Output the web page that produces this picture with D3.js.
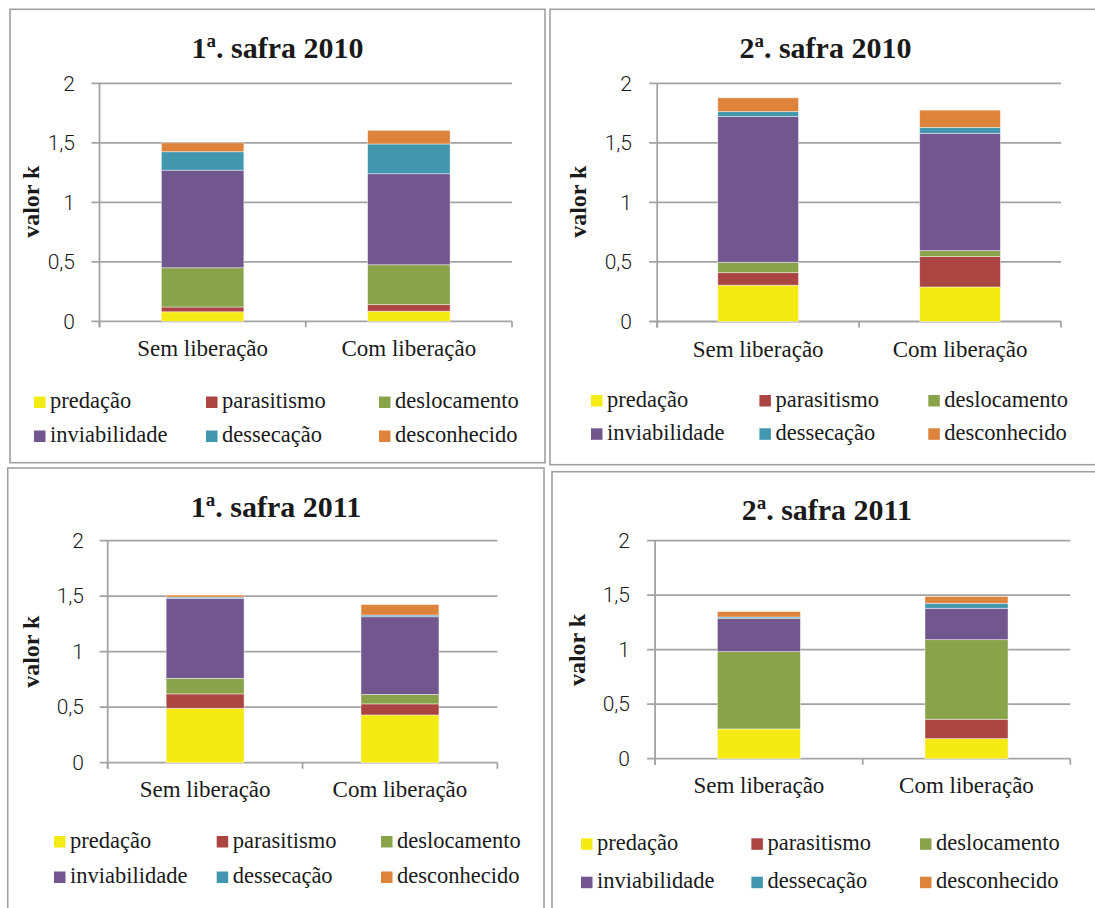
<!DOCTYPE html>
<html>
<head>
<meta charset="utf-8">
<script src="https://cdn.jsdelivr.net/npm/d3@7"></script>
<style>
  html, body { margin: 0; padding: 0; background: #ffffff; }
  svg { display: block; }
</style>
</head>
<body>
<svg id="chart" width="1095" height="908"></svg>
<script>
// Categories, causes of mortality and axis tick labels
const categories = ["Sem liberação", "Com liberação"];
const causes = ["predação", "parasitismo", "deslocamento", "inviabilidade", "dessecação", "desconhecido"];
const causeColors = ["#f4ea14", "#aa4542", "#89a34a", "#72578e", "#4297ae", "#dd833b"];
const yTicks = [0, 0.5, 1, 1.5, 2];
const yTickLabels = ["0", "0,5", "1", "1,5", "2"];

// k-values per cause (same order as `causes`)
const safra1_2010_sem = [0.080, 0.040, 0.330, 0.820, 0.155, 0.075];
const safra1_2010_com = [0.085, 0.055, 0.335, 0.765, 0.250, 0.115];
const safra2_2010_sem = [0.305, 0.105, 0.087, 1.224, 0.041, 0.116];
const safra2_2010_com = [0.290, 0.255, 0.050, 0.985, 0.050, 0.145];
const safra1_2011_sem = [0.490, 0.130, 0.140, 0.720, 0.012, 0.018];
const safra1_2011_com = [0.430, 0.100, 0.085, 0.700, 0.015, 0.095];
const safra2_2011_sem = [0.273, 0.000, 0.709, 0.306, 0.012, 0.050];
const safra2_2011_com = [0.184, 0.178, 0.730, 0.288, 0.046, 0.062];

const SERIF = "'Liberation Serif', 'Times New Roman', Times, serif";
const SANS = "Roboto, 'Open Sans', 'DejaVu Sans', sans-serif";

// Panel layout (frame, plot area, text anchors)
const panels = [
  { num: "1", rest: ". safra 2010", values: [safra1_2010_sem, safra1_2010_com],
    frame: [10, 9.3, 545, 462.7], x0: 99.5, x1: 512, yBase: 321.3, yTop: 83.3,
    tickRight: 75, titleX: 277.5, titleY: 58, yTitleX: 39, yTitleY: 201.7, catY: 356,
    legX: [34, 206, 379], legY: [396.5, 430.5] },
  { num: "2", rest: ". safra 2010", values: [safra2_2010_sem, safra2_2010_com],
    frame: [550, 9.3, 1100, 464.7], x0: 657.2, x1: 1061, yBase: 321.5, yTop: 83.3,
    tickRight: 632, titleX: 825.4, titleY: 58.3, yTitleX: 586, yTitleY: 201.7, catY: 356.7,
    legX: [591, 759.4, 928.3], legY: [395, 428.3] },
  { num: "1", rest: ". safra 2011", values: [safra1_2011_sem, safra1_2011_com],
    frame: [7.7, 468, 544, 915], x0: 107.7, x1: 497.4, yBase: 762.7, yTop: 540.7,
    tickRight: 84, titleX: 276, titleY: 516.7, yTitleX: 39, yTitleY: 651.7, catY: 797.3,
    legX: [54, 216.7, 381], legY: [836, 871.5] },
  { num: "2", rest: ". safra 2011", values: [safra2_2011_sem, safra2_2011_com],
    frame: [552, 471.7, 1100, 915], x0: 655.1, x1: 1070.3, yBase: 758.7, yTop: 540.7,
    tickRight: 630, titleX: 826.8, titleY: 520, yTitleX: 585, yTitleY: 650, catY: 793.3,
    legX: [581, 751.4, 920], legY: [838.3, 876.7] }
];

const svg = d3.select("#chart");
const gridColor = "#a3a3a3";
const ink = "#1a1a1a";

panels.forEach(p => {
  const g = svg.append("g");

  // panel frame
  const [fx0, fy0, fx1, fy1] = p.frame;
  g.append("rect")
    .attr("x", fx0).attr("y", fy0)
    .attr("width", fx1 - fx0).attr("height", fy1 - fy0)
    .attr("fill", "none").attr("stroke", "#a0a0a0").attr("stroke-width", 1.6);

  const x = d3.scaleBand().domain(categories).range([p.x0, p.x1]).padding(0);
  const y = d3.scaleLinear().domain([0, 2]).range([p.yBase, p.yTop]);
  const barW = x.bandwidth() * 0.4;

  // horizontal gridlines with small left tick
  g.selectAll("line.grid").data(yTicks).join("line")
    .attr("class", "grid")
    .attr("x1", p.x0 - 8).attr("x2", p.x1)
    .attr("y1", d => y(d)).attr("y2", d => y(d))
    .attr("stroke", gridColor).attr("stroke-width", 1.8);

  // vertical axis line
  g.append("line")
    .attr("x1", p.x0).attr("x2", p.x0)
    .attr("y1", y(2)).attr("y2", y(0) + 6)
    .attr("stroke", gridColor).attr("stroke-width", 1.8);

  // category boundary ticks on the x axis
  const bounds = [p.x0, p.x0 + x.step(), p.x1];
  g.selectAll("line.xt").data(bounds).join("line")
    .attr("class", "xt")
    .attr("x1", d => d).attr("x2", d => d)
    .attr("y1", y(0)).attr("y2", y(0) + 6)
    .attr("stroke", gridColor).attr("stroke-width", 1.8);

  // y tick labels via d3 axis
  const yAxis = d3.axisLeft(y).tickValues(yTicks)
    .tickFormat((d, i) => yTickLabels[i]).tickSize(0).tickPadding(0);
  const ax = g.append("g").attr("transform", `translate(${p.tickRight},0)`).call(yAxis);
  ax.attr("font-family", null).attr("font-size", null);
  ax.select(".domain").remove();
  ax.selectAll("text")
    .attr("fill", ink)
    .style("font-family", SANS).style("font-weight", "300").style("font-size", "21px");

  // stacked bars
  const rows = categories.map((c, i) => {
    const o = { cat: c };
    causes.forEach((k, j) => { o[k] = p.values[i][j]; });
    return o;
  });
  const series = d3.stack().keys(causes)(rows);
  series.forEach((s, j) => {
    g.selectAll(null).data(s).join("rect")
      .attr("x", d => x(d.data.cat) + (x.bandwidth() - barW) / 2)
      .attr("width", barW)
      .attr("y", d => y(d[1]))
      .attr("height", d => Math.max(0, y(d[0]) - y(d[1])))
      .attr("fill", causeColors[j])
      .attr("stroke", d => (d[1] - d[0]) > 0 ? "rgba(255,255,255,0.55)" : "none")
      .attr("stroke-width", 0.8);
  });

  // category labels
  g.selectAll("text.cat").data(categories).join("text")
    .attr("class", "cat")
    .attr("x", d => x(d) + x.bandwidth() / 2)
    .attr("y", p.catY)
    .attr("text-anchor", "middle")
    .style("font-family", SERIF).style("font-size", "23px")
    .attr("fill", ink)
    .text(d => d);

  // title
  const t = g.append("text")
    .attr("x", p.titleX).attr("y", p.titleY)
    .attr("text-anchor", "middle")
    .style("font-family", SERIF).style("font-weight", "bold").style("font-size", "30px")
    .attr("fill", ink);
  t.append("tspan").text(p.num);
  t.append("tspan").style("font-size", "19px").attr("dy", -11).text("a");
  t.append("tspan").attr("dy", 11).text(p.rest);

  // y axis title
  g.append("text")
    .attr("transform", `translate(${p.yTitleX},${p.yTitleY}) rotate(-90)`)
    .attr("text-anchor", "middle")
    .style("font-family", SERIF).style("font-weight", "bold").style("font-size", "24px")
    .attr("fill", ink)
    .text("valor k");

  // legend: 3 columns x 2 rows
  causes.forEach((c, i) => {
    const lx = p.legX[i % 3], ly = p.legY[Math.floor(i / 3)];
    g.append("rect").attr("x", lx).attr("y", ly).attr("width", 11.5).attr("height", 11.5)
      .attr("fill", causeColors[i]);
    g.append("text")
      .attr("x", lx + 16).attr("y", ly + 11.5)
      .style("font-family", SERIF).style("font-size", "22.5px")
      .attr("fill", ink)
      .text(c);
  });
});
</script>
</body>
</html>
